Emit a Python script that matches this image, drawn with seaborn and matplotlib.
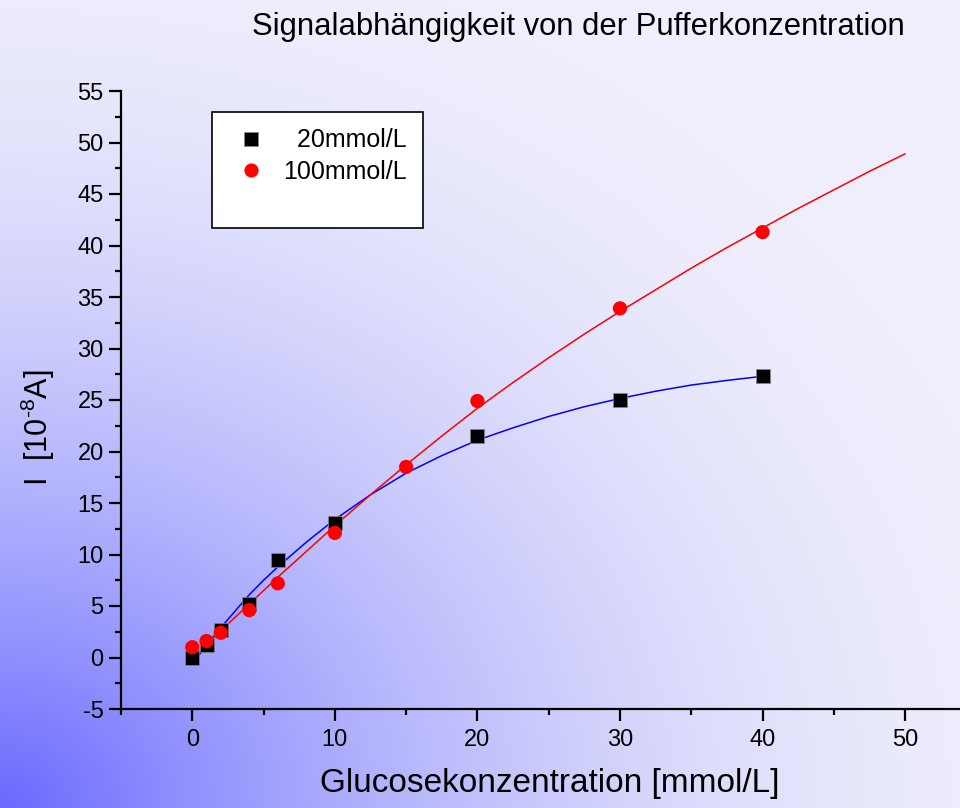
import numpy as np
import pandas as pd
import matplotlib
matplotlib.use("Agg")
import matplotlib.pyplot as plt
import seaborn as sns
from matplotlib.lines import Line2D
from matplotlib.ticker import MultipleLocator

# ---------------- data ----------------
conc_20 = [0, 1, 2, 4, 6, 10, 20, 30, 40]
signal_20 = [0.0, 1.2, 2.7, 5.2, 9.5, 13.1, 21.5, 25.0, 27.3]

conc_100 = [0, 1, 2, 4, 6, 10, 15, 20, 30, 40]
signal_100 = [1.0, 1.6, 2.4, 4.6, 7.2, 12.1, 18.5, 24.9, 33.9, 41.3]

# fitted curves
fit20_x = [0, 1, 2, 3, 4, 5, 6, 8, 10, 12.5, 15, 17.5, 20, 22.5, 25, 27.5, 30, 32.5, 35, 37.5, 40]
fit20_y = [-0.6, 1.2, 2.9, 4.5, 6.1, 7.5, 8.8, 11.2, 13.4, 15.8, 17.9, 19.6, 21.1, 22.3, 23.4,
           24.35, 25.15, 25.85, 26.45, 26.9, 27.3]
fit100_x = [0, 2, 4, 6, 8, 10, 12.5, 15, 17.5, 20, 22.5, 25, 27.5, 30, 32.5, 35, 37.5, 40,
            42.5, 45, 47.5, 50]
fit100_y = [-0.1, 2.6, 5.2, 7.8, 10.3, 12.8, 15.8, 18.7, 21.5, 24.2, 26.7, 29.1, 31.4, 33.6,
            35.7, 37.8, 39.8, 41.7, 43.6, 45.4, 47.2, 48.9]

labels = ["  20mmol/L", "100mmol/L"]
title = "Signalabhängigkeit von der Pufferkonzentration"
xlabel = "Glucosekonzentration [mmol/L]"
ylabel = r"I  [10$^{\text{-}8}$A]"

# ---------------- style ----------------
sns.set_style("ticks")
plt.rcParams["font.family"] = ["Liberation Sans", "DejaVu Sans"]
plt.rcParams["mathtext.fontset"] = "custom"
plt.rcParams["mathtext.rm"] = "Liberation Sans"
plt.rcParams["mathtext.it"] = "Liberation Sans"
plt.rcParams["axes.unicode_minus"] = False
plt.rcParams["text.color"] = "black"
plt.rcParams["axes.labelcolor"] = "black"
plt.rcParams["xtick.color"] = "black"
plt.rcParams["ytick.color"] = "black"

W, H = 960, 808
fig = plt.figure(figsize=(W / 100, H / 100), dpi=100)
fig.patch.set_facecolor("white")

# background gradient
bg = fig.add_axes([0, 0, 1, 1], zorder=-10)
gx = np.linspace(0, 1, 480)
gy = np.linspace(0, 1, 404)
XX, YY = np.meshgrid(gx, gy)
d = np.sqrt(XX ** 2 + YY ** 2)
w = np.clip(1 - d / 1.1, 0, 1) ** 1.8
light = np.array([238, 238, 252]) / 255
blue = np.array([105, 105, 255]) / 255
img = light[None, None, :] + (blue - light)[None, None, :] * w[:, :, None]
bg.imshow(img, origin="lower", extent=[0, 1, 0, 1], aspect="auto")
bg.set_axis_off()

ax = fig.add_axes([121 / W, (H - 709) / H, (W - 121) / W, 618 / H])
ax.set_facecolor("none")

df20 = pd.DataFrame({"x": conc_20, "y": signal_20})
df100 = pd.DataFrame({"x": conc_100, "y": signal_100})
f20 = pd.DataFrame({"x": fit20_x, "y": fit20_y})
f100 = pd.DataFrame({"x": fit100_x, "y": fit100_y})

sns.lineplot(data=f20, x="x", y="y", color="#0000ff", lw=1.1, sort=False, estimator=None,
             ax=ax, zorder=2)
sns.lineplot(data=f100, x="x", y="y", color="#ff0000", lw=1.1, sort=False, estimator=None,
             ax=ax, zorder=2)
sns.scatterplot(data=df20, x="x", y="y", marker="s", s=90, color="black",
                edgecolor="#888888", linewidth=0.5, ax=ax, zorder=3)
sns.scatterplot(data=df100, x="x", y="y", marker="o", s=105, color="#ff0000",
                edgecolor="none", linewidth=0, ax=ax, zorder=4)

ax.set_xlim(-5, 53.85)
ax.set_ylim(-5, 55)
ax.xaxis.set_major_locator(MultipleLocator(10))
ax.xaxis.set_minor_locator(MultipleLocator(5))
ax.yaxis.set_major_locator(MultipleLocator(5))
ax.yaxis.set_minor_locator(MultipleLocator(2.5))
ax.set_xticks([0, 10, 20, 30, 40, 50])
ax.set_yticks(list(range(-5, 56, 5)))

for s in ["top", "right"]:
    ax.spines[s].set_visible(False)
for s in ["left", "bottom"]:
    ax.spines[s].set_linewidth(1.6)
    ax.spines[s].set_color("black")

ax.tick_params(which="major", direction="out", length=8.5, width=1.6, labelsize=17,
               colors="black", pad=4)
ax.tick_params(which="minor", direction="out", length=4.5, width=1.6, colors="black")
ax.tick_params(axis="x", which="major", pad=6)

ax.set_xlabel(xlabel, fontsize=24)
ax.xaxis.set_label_coords(0.511, -0.096)
ax.set_ylabel(ylabel, fontsize=22)
ax.yaxis.label.set_va("center")
ax.yaxis.set_label_coords(-0.099, 0.456)

fig.text(578 / W, 1 - 27 / H, title, ha="center", va="center", fontsize=22.3)

# legend
handles = [
    Line2D([], [], marker="s", linestyle="none", markersize=9.5, markerfacecolor="black",
           markeredgecolor="#888888", markeredgewidth=0.5),
    Line2D([], [], marker="o", linestyle="none", markersize=10.2, markerfacecolor="#ff0000",
           markeredgecolor="none"),
    Line2D([], [], linestyle="none"),
]
leg = ax.legend(handles, labels + [" "], loc="upper left",
                bbox_to_anchor=((212 - 121) / 839, (709 - 112) / 618),
                fontsize=18, frameon=True, fancybox=False, framealpha=1,
                edgecolor="black", facecolor="white", borderpad=0.65,
                handlelength=1.8, handletextpad=0.4, labelspacing=0.3, borderaxespad=0)
leg.get_frame().set_linewidth(1.2)
leg.get_texts()[2].set_fontsize(12)

fig.savefig("out.png", dpi=100)
